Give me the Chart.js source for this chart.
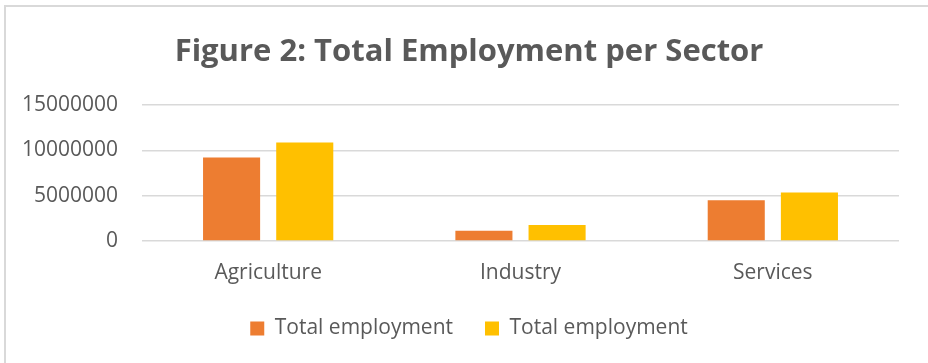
<!DOCTYPE html>
<html>
<head>
<meta charset="utf-8">
<script src="https://cdn.jsdelivr.net/npm/chart.js@4/dist/chart.umd.min.js"></script>
<style>
  html, body { margin: 0; padding: 0; background: #fff; }
  #wrap { position: relative; width: 928px; height: 363px; }
  #frame {
    position: absolute; left: 4px; top: 5px; right: 0; bottom: 0;
    border-left: 2px solid #d9d9d9; border-top: 2px solid #d9d9d9;
    pointer-events: none;
  }
</style>
</head>
<body>
<div id="wrap">
  <canvas id="empChart" width="928" height="363"></canvas>
  <div id="frame"></div>
</div>
<script>
const sectors = ["Agriculture", "Industry", "Services"];
const employmentA = [9230000, 1140000, 4500000];
const employmentB = [10880000, 1760000, 5350000];
const seriesNames = ["Total employment", "Total employment"];
const yTicks = [0, 5000000, 10000000, 15000000];

const grey = "#595959";
Chart.defaults.font.family = "'Open Sans', sans-serif";
Chart.defaults.color = grey;

// title and legend sit centred on the whole frame, not on the padded box
const centerShift = {
  id: "centerShift",
  afterLayout(chart, args, opts) {
    [chart.titleBlock, chart.legend].forEach((box) => {
      if (box) {
        box.left += opts.dx;
        box.right += opts.dx;
      }
    });
  }
};

let empChart;

function initChart() {
  const ctx = document.getElementById("empChart");
  empChart = new Chart(ctx, {
    type: "bar",
    data: {
      labels: sectors,
      datasets: [{
        label: seriesNames[0],
        data: employmentA,
        backgroundColor: "#ED7D31"
      }, {
        label: seriesNames[1],
        data: employmentB,
        backgroundColor: "#FFC000"
      }]
    },
    plugins: [centerShift],
    options: {
      responsive: false,
      animation: false,
      categoryPercentage: 0.58,
      barPercentage: 0.78,
      layout: { padding: { left: 0, right: 29, top: 0, bottom: 14 } },
      plugins: {
        centerShift: { dx: 19.5 },
        title: {
          display: true,
          text: "Figure 2: Total Employment per Sector",
          color: grey,
          font: { size: 31, weight: "bold" },
          padding: { top: 34, bottom: 34 }
        },
        legend: {
          position: "bottom",
          labels: {
            boxWidth: 14,
            boxHeight: 14,
            padding: 32,
            color: grey,
            font: { size: 21 }
          }
        },
        tooltip: { enabled: false }
      },
      scales: {
        x: {
          afterFit: (scale) => { scale.height = 45; },
          grid: { display: false, drawTicks: false },
          border: { display: false },
          ticks: { font: { size: 21 }, padding: 19, color: grey }
        },
        y: {
          min: 0,
          max: 15000000,
          afterBuildTicks: (scale) => {
            scale.ticks = yTicks.map(v => ({ value: v }));
          },
          afterFit: (scale) => { scale.width = 142; },
          grid: { color: "#d9d9d9", lineWidth: 1.5, drawTicks: false },
          border: { display: false },
          ticks: {
            font: { size: 21 },
            padding: 24,
            color: grey,
            callback: (v) => String(v)
          }
        }
      }
    }
  });
}

initChart();
</script>
</body>
</html>
